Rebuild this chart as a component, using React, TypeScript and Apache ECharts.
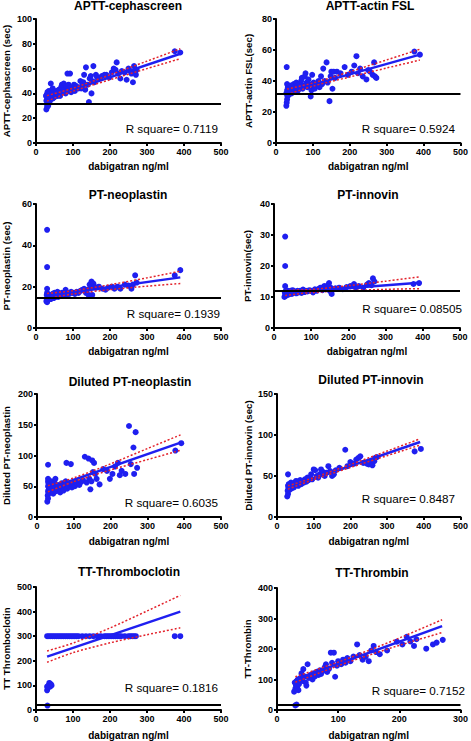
import React, { useEffect, useRef } from 'react';
import * as echarts from 'echarts';

const FONT = '"Liberation Sans", Arial, Helvetica, sans-serif';

const titles = ['APTT-cephascreen', 'APTT-actin FSL', 'PT-neoplastin', 'PT-innovin', 'Diluted PT-neoplastin', 'Diluted PT-innovin', 'TT-Thromboclotin', 'TT-Thrombin'];
const yNames = ['APTT-cephascreen (sec)', 'APTT-actin FSL(sec)', 'PT-neoplastin (sec)', 'PT-innovin(sec)', 'Diluted PT-neoplastin', 'Diluted PT-innovin (sec)', 'TT Thromboclotin', 'TT-Thrombin'];
const xName = 'dabigatran ng/ml';
const rSquares = ['0.7119', '0.5924', '0.1939', '0.08505', '0.6035', '0.8487', '0.1816', '0.7152'];
const refLines: (number | null)[] = [32, 32, 14.7, 12, null, null, 20, 16];
const xMaxs = [500, 500, 500, 500, 500, 500, 500, 300];
const yMaxs = [100, 80, 60, 40, 200, 150, 500, 400];
const yIntervals = [20, 20, 20, 10, 50, 50, 100, 100];

const apttCeph = [[28,27],[30,29],[30,31],[32,33],[28,34],[30,36],[33,37],[29,39],[31,41],[35,42],[38,40],[36,35],[40,38],[42,36],[44,40],[40,48],[45,44],[48,41],[50,37],[52,39],[55,42],[58,38],[33,30],[35,33],[38,34],[27,38],[46,36],[60,40],[62,43],[65,38],[68,45],[70,47],[72,41],[75,48],[78,44],[80,40],[82,46],[85,56],[86,42],[88,47],[90,44],[92,56],[95,41],[98,45],[100,43],[103,47],[105,42],[108,46],[112,45],[115,44],[120,50],[122,44],[125,47],[128,49],[130,55],[133,43],[135,61],[140,47],[143,33],[145,52],[148,54],[150,40],[152,50],[155,62],[158,49],[162,55],[165,53],[170,52],[178,54],[185,55],[190,55],[198,53],[205,57],[210,60],[215,59],[218,65],[222,56],[228,52],[232,58],[240,57],[245,51],[250,60],[255,58],[258,56],[262,49],[265,62],[268,57],[270,55],[272,59],[375,74],[390,73]];
const apttActin = [[28,24],[29,26],[30,28],[31,30],[28,32],[30,34],[32,36],[30,38],[29,49],[34,31],[36,33],[38,35],[40,37],[42,32],[44,34],[46,36],[48,38],[50,33],[52,35],[55,39],[58,37],[60,34],[62,36],[65,38],[68,40],[70,42],[72,35],[75,37],[78,43],[80,45],[83,39],[85,36],[88,41],[90,38],[94,30],[96,34],[98,44],[100,37],[102,39],[105,35],[110,38],[115,40],[118,36],[122,43],[125,38],[128,48],[132,40],[137,52],[140,39],[145,27],[148,43],[150,46],[153,35],[156,46],[160,42],[165,46],[175,45],[186,49],[195,44],[205,46],[212,50],[218,56],[222,45],[228,48],[235,43],[245,41],[250,47],[255,46],[262,44],[266,52],[268,43],[272,42],[375,59],[390,57]];
const ptNeo = [[28,13],[30,12.5],[31,14],[32,15],[29,16],[30,17],[30,19],[30,29.5],[30,47.5],[33,14],[35,15.5],[37,16],[40,14],[42,15],[45,16.5],[48,14.5],[50,17],[53,15],[55,16],[58,17.5],[60,15],[63,16],[66,16.5],[70,17],[73,15.5],[76,16],[80,18.5],[83,16],[86,17],[90,16.5],[95,17.5],[100,17],[105,16.5],[110,17.5],[115,17],[120,18],[125,18.5],[130,19],[135,17],[138,18.5],[142,16],[145,21],[148,20],[150,22.5],[152,16],[155,21.5],[158,20],[162,19.5],[170,20],[180,19],[188,18.5],[195,19.5],[205,20],[212,19],[220,20],[228,19],[240,21],[250,20.5],[258,19],[262,21],[268,25.5],[272,22],[375,25.5],[390,28]];
const ptInn = [[28,10],[30,10.5],[31,11],[29,11.5],[32,12],[30,13.5],[30,20],[30,29.5],[34,10.5],[36,11],[38,12],[40,10.8],[43,11.5],[45,12],[48,11],[50,12.2],[53,11.5],[56,11.8],[60,11.2],[63,12],[66,11.5],[70,12],[74,11.3],[78,12.4],[82,11.6],[86,12],[90,11.8],[95,12.2],[100,12],[105,11.5],[110,12.5],[115,12],[120,12.6],[125,13],[130,12.2],[135,13.5],[140,12.8],[145,13.8],[148,14.5],[150,12],[152,13],[155,11],[158,12.5],[165,12.8],[175,13],[185,12.5],[195,13.2],[205,13.5],[215,14.2],[220,13],[228,13.5],[240,13],[250,14],[255,14.5],[262,13.8],[266,16],[270,15],[375,14.2],[390,14.5]];
const dilNeo = [[28,25],[30,30],[29,35],[31,38],[30,42],[32,45],[30,50],[31,55],[30,58],[30,62],[30,85],[34,40],[36,48],[38,52],[40,58],[42,45],[44,38],[46,50],[48,55],[50,62],[52,42],[55,48],[58,52],[60,45],[63,40],[66,50],[68,55],[70,48],[72,43],[75,52],[78,58],[80,88],[82,46],[85,50],[88,55],[92,86],[95,48],[98,52],[100,56],[103,50],[106,58],[110,54],[115,52],[120,57],[125,60],[130,98],[135,56],[140,95],[142,62],[145,45],[148,58],[150,92],[152,73],[155,88],[158,70],[162,62],[170,53],[180,78],[190,75],[198,62],[205,70],[212,82],[220,88],[225,68],[230,75],[240,70],[250,148],[255,86],[262,113],[264,70],[268,138],[272,80],[376,108],[392,120]];
const dilInn = [[28,25],[30,28],[29,32],[31,35],[30,38],[30,52],[32,40],[34,33],[36,37],[38,42],[40,35],[42,38],[44,40],[46,36],[48,42],[50,39],[52,44],[55,40],[58,38],[60,42],[63,45],[66,40],[70,44],[73,42],[76,46],[80,43],[83,48],[86,45],[90,47],[93,52],[96,46],[100,58],[104,57],[108,50],[112,48],[116,52],[120,58],[125,55],[130,50],[135,54],[140,62],[145,56],[150,50],[155,52],[160,57],[170,60],[186,82],[192,62],[200,67],[210,65],[216,70],[222,72],[227,74],[235,66],[245,65],[250,64],[255,66],[260,63],[265,68],[268,72],[272,73],[375,80],[392,83]];
const ttTcX300 = [30,35,40,45,50,55,60,65,70,75,80,85,90,95,100,105,110,115,125,135,145,155,165,175,185,190,195,200,205,210,215,220,225,230,240,250,255,260,265,270,375,390];
const ttTcLow = [[30,80],[32,90],[34,100],[36,110],[38,95],[40,105],[42,100],[30,95],[31,18]];
const ttThr = [[30,15],[32,18],[28,60],[30,70],[31,80],[29,90],[32,95],[33,75],[34,100],[35,65],[36,85],[38,105],[40,120],[42,95],[43,134],[45,110],[47,90],[48,80],[50,150],[52,105],[55,115],[58,100],[60,120],[62,110],[65,125],[68,115],[70,130],[72,118],[75,128],[78,140],[80,150],[82,125],[85,135],[88,188],[90,155],[93,188],[95,109],[98,145],[100,160],[105,150],[108,165],[112,155],[115,170],[120,160],[125,175],[131,215],[135,180],[140,165],[145,175],[150,160],[154,195],[158,210],[162,190],[168,183],[180,195],[196,224],[205,215],[212,240],[218,225],[224,210],[228,232],[244,201],[255,215],[261,221],[271,230]];

const fitLines = [
  [[30,36],[390,72]],
  [[30,33],[390,57]],
  [[30,15.5],[390,24.5]],
  [[30,11.3],[390,14.6]],
  [[30,46],[390,121]],
  [[30,36],[390,91.5]],
  [[30,217],[390,400]],
  [[30,100],[270,275]],
];
const bandX = [30, 100, 200, 300, 390];
const bandX8 = [30, 100, 150, 200, 270];
const upperBands = [
  [38.2, 44.2, 55, 66, 76],
  [34.8, 38.7, 46, 53.6, 60.5],
  [16.7, 18.05, 20.95, 24.25, 27.5],
  [12.1, 12.44, 13.66, 15.08, 16.5],
  [51, 63.6, 86.4, 111.3, 133.5],
  [38, 48, 64, 80.4, 95.3],
  [240, 272, 333.5, 402.4, 466],
  [109, 157, 195.5, 236, 296],
];
const lowerBands = [
  [33.8, 41.8, 51, 60, 68],
  [31.2, 36.7, 42.6, 48.4, 53.5],
  [14.3, 16.45, 18.55, 20.25, 21.5],
  [10.5, 11.44, 12.06, 12.48, 12.7],
  [41, 57.6, 76.4, 93.3, 108.5],
  [34, 45.6, 60.4, 74.8, 87.7],
  [194, 233, 273, 306, 334],
  [91, 145, 179.5, 212, 254],
];

const ttTc = [...ttTcX300.map((x) => [x, 300]), ...ttTcLow];
const pointSets = [apttCeph, apttActin, ptNeo, ptInn, dilNeo, dilInn, ttTc, ttThr];

// layout: [left, top, width, height]
const grids = [
  [35, 19, 186, 124],
  [276, 19, 187, 124],
  [35, 204, 186, 124],
  [274, 204, 186, 124],
  [35, 394, 186, 123],
  [277, 394, 186, 123],
  [35, 587, 186, 123],
  [277, 588, 185, 123],
];
const titlePos = [[128, 6], [370, 6], [128, 195], [368, 195], [130, 382], [371, 380], [129, 572], [372, 573]];
const rPos = [[218, 128], [455, 128], [220, 313], [462, 308], [218, 502], [455, 498], [218, 687], [465, 690]];
const yNameGaps = [25, 23, 25, 22, 26, 24, 25, 25];
const xNameGaps = [18, 18, 18, 18, 19, 19, 20, 20];

const BLUE = '#1f1ff0';
const RED = '#e3222b';

function buildOption() {
  const grid: any[] = [];
  const xAxis: any[] = [];
  const yAxis: any[] = [];
  const series: any[] = [];
  const graphic: any[] = [];
  const axisCommon = {
    axisLine: { show: true, onZero: false, lineStyle: { color: '#000', width: 2 } },
    axisTick: { show: true, length: 3, lineStyle: { color: '#000', width: 2 } },
    splitLine: { show: false },
    axisLabel: { color: '#000', fontSize: 9, fontWeight: 'bold', fontFamily: FONT, margin: 4 },
    nameTextStyle: { color: '#000', fontSize: 10, fontWeight: 'bold', fontFamily: FONT },
  };
  for (let i = 0; i < 8; i++) {
    const [l, t, w, h] = grids[i];
    grid.push({ left: l, top: t, width: w, height: h, containLabel: false });
    xAxis.push({
      ...axisCommon, type: 'value', gridIndex: i, min: 0, max: xMaxs[i], interval: 100,
      name: xName, nameLocation: 'middle', nameGap: xNameGaps[i],
    });
    yAxis.push({
      ...axisCommon, type: 'value', gridIndex: i, min: 0, max: yMaxs[i], interval: yIntervals[i],
      name: yNames[i], nameLocation: 'middle', nameGap: yNameGaps[i],
      nameTextStyle: { ...axisCommon.nameTextStyle, fontSize: 9.7 },
    });
    const ref = refLines[i];
    series.push({
      type: 'scatter', xAxisIndex: i, yAxisIndex: i, data: pointSets[i],
      symbolSize: 6, itemStyle: { color: BLUE, opacity: 1 }, z: 2,
      markLine: ref == null ? undefined : {
        silent: true, symbol: 'none', label: { show: false },
        lineStyle: { color: '#000', width: 2, type: 'solid' },
        data: [{ yAxis: ref }], z: 5,
      },
    });
    series.push({
      type: 'line', xAxisIndex: i, yAxisIndex: i, data: fitLines[i], showSymbol: false,
      lineStyle: { color: BLUE, width: 2.5 }, z: 3,
    });
    const bx = i === 7 ? bandX8 : bandX;
    series.push({
      type: 'line', xAxisIndex: i, yAxisIndex: i, data: bx.map((x, k) => [x, upperBands[i][k]]),
      showSymbol: false, smooth: 0.3, lineStyle: { color: RED, width: 1.5, type: [2, 2] }, z: 4,
    });
    series.push({
      type: 'line', xAxisIndex: i, yAxisIndex: i, data: bx.map((x, k) => [x, lowerBands[i][k]]),
      showSymbol: false, smooth: 0.3, lineStyle: { color: RED, width: 1.5, type: [2, 2] }, z: 4,
    });
    graphic.push({
      type: 'text', x: titlePos[i][0], y: titlePos[i][1],
      style: { text: titles[i], fill: '#000', font: `bold 12px ${FONT}`, textAlign: 'center', textVerticalAlign: 'middle' },
    });
    graphic.push({
      type: 'text', x: rPos[i][0], y: rPos[i][1],
      style: { text: 'R square= ' + rSquares[i], fill: '#000', font: `11.7px ${FONT}`, textAlign: 'right', textVerticalAlign: 'middle' },
    });
  }
  return { animation: false, backgroundColor: '#fff', grid, xAxis, yAxis, series, graphic };
}

export default function App() {
  const ref = useRef<HTMLDivElement>(null);
  useEffect(() => {
    if (!ref.current) return;
    const chart = echarts.init(ref.current, undefined, { renderer: 'svg' });
    chart.setOption(buildOption() as any);
    return () => chart.dispose();
  }, []);
  return <div ref={ref} style={{ position: 'fixed', left: 0, top: 0, width: 471, height: 741, background: '#fff' }} />;
}
